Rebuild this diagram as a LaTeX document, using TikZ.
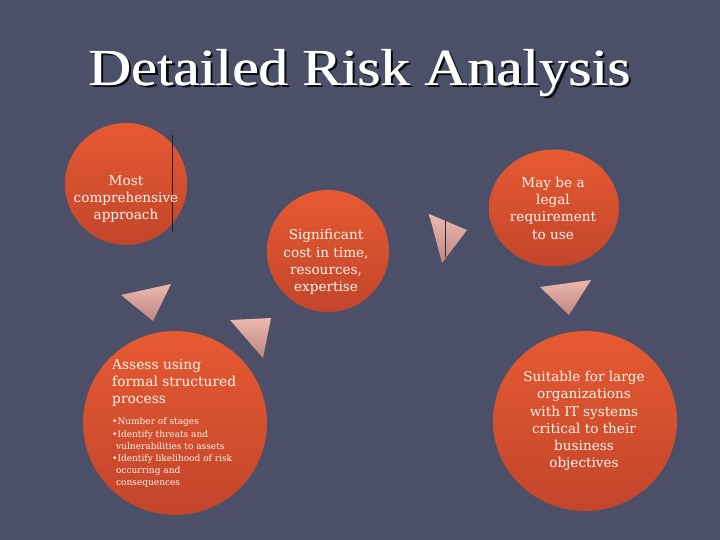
\documentclass[tikz,border=0pt]{standalone}
\usepackage{fontspec}
\setmainfont{DejaVu Serif}
\newfontfamily\titlefont{Liberation Serif}
\usetikzlibrary{shapes.geometric,shadings}
\definecolor{bgc}{HTML}{4B5068}
\definecolor{circtop}{HTML}{E65A32}
\definecolor{circbot}{HTML}{C2452B}
\definecolor{tritop}{HTML}{ECB8AE}
\definecolor{tribot}{HTML}{BF8682}
\tikzset{
  bubble/.style={circle, inner sep=0pt, top color=circtop, bottom color=circbot, draw=none},
  ebubble/.style={ellipse, inner sep=0pt, top color=circtop, bottom color=circbot, draw=none},
  bubtext/.style={text=white!92!orange, align=center, inner sep=0pt, font=\fontsize{13.6}{17.3}\selectfont},
  tri/.style={top color=tritop, bottom color=tribot, draw=none},
  artline/.style={draw=black!60!bgc, line width=0.7pt},
  titletext/.style={inner sep=0pt, font=\titlefont\fontsize{52}{58}\selectfont}
}
\begin{document}
\begin{tikzpicture}[x=1pt,y=-1pt]
\fill[bgc] (0,0) rectangle (720,540);
\useasboundingbox (0,0) rectangle (720,540);
% title
\node[titletext, text=black!85!bgc] (titleshadow) at (362.5,75.5) {\scalebox{1.13}[1]{Detailed Risk Analysis}};
\node[titletext, text=white] (titlea) at (359.6,73) {\scalebox{1.13}[1]{Detailed Risk Analysis}};
\node[titletext, text=white] (title) at (360.4,73) {\scalebox{1.13}[1]{Detailed Risk Analysis}};
% circles
\node[bubble, minimum size=122pt] (c1) at (126,184) {};
\node[bubble, minimum size=184pt] (c2) at (175,423) {};
\node[bubble, minimum size=122pt] (c3) at (328,251) {};
\node[ebubble, minimum width=130pt, minimum height=117pt] (c4) at (554,208) {};
\node[ebubble, minimum width=184pt, minimum height=180pt] (c5) at (585,421) {};
% artefact lines
\coordinate (l1a) at (172,135); \coordinate (l1b) at (172,232);
\draw[artline] (l1a) -- (l1b);
% triangles
\coordinate (t1a) at (121,295); \coordinate (t1b) at (171,284); \coordinate (t1c) at (153,321);
\shade[tri] (t1a) -- (t1b) -- (t1c) -- cycle;
\coordinate (t2a) at (230,320); \coordinate (t2b) at (271,318); \coordinate (t2c) at (263,358);
\shade[tri] (t2a) -- (t2b) -- (t2c) -- cycle;
\coordinate (t3a) at (429,214); \coordinate (t3b) at (467,230); \coordinate (t3c) at (442,263);
\shade[tri] (t3a) -- (t3b) -- (t3c) -- cycle;
\coordinate (l3a) at (445,220); \coordinate (l3b) at (445,257);
\draw[draw=black!45!bgc, line width=0.7pt] (l3a) -- (l3b);
\coordinate (t4a) at (540,287); \coordinate (t4b) at (591,280); \coordinate (t4c) at (569,315);
\shade[tri] (t4a) -- (t4b) -- (t4c) -- cycle;
% texts
\node[bubtext] (x1) at (126,199) {Most\\comprehensive\\approach};
\node[bubtext] (x3) at (326,262) {Significant\\cost in time,\\resources,\\expertise};
\node[bubtext] (x4) at (553,208) {May be a\\legal\\requirement\\to use};
\node[bubtext] (x5) at (584,421) {Suitable for large\\organizations\\with IT systems\\critical to their\\business\\objectives};
\node[bubtext, align=left, anchor=west, font=\fontsize{13.8}{17.3}\selectfont] (x2) at (112,383) {Assess using\\formal structured\\process};
\node[bubtext, align=left, anchor=west, font=\fontsize{9}{12.2}\selectfont] (x2b) at (112,453) {•Number of stages\\•Identify threats and\\\hspace*{4pt}vulnerabilities to assets\\•Identify likelihood of risk\\\hspace*{4pt}occurring and\\\hspace*{4pt}consequences};
\end{tikzpicture}
\end{document}
